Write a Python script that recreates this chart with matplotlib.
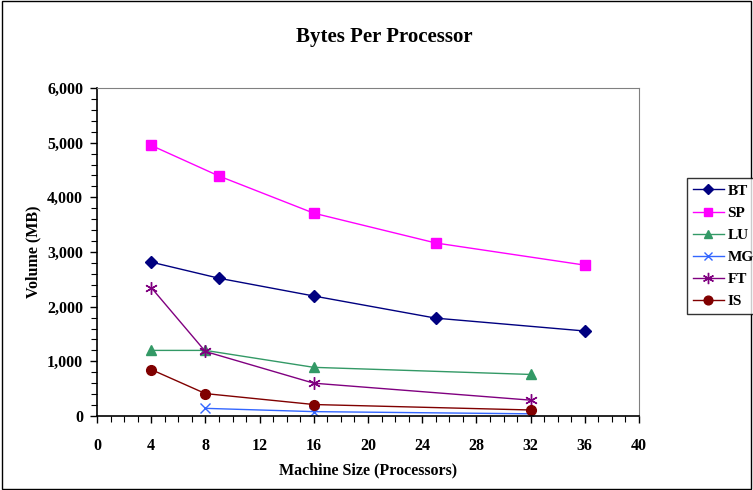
import matplotlib
matplotlib.use("Agg")
import matplotlib.pyplot as plt
from matplotlib.ticker import MultipleLocator, FuncFormatter
from matplotlib.patches import Rectangle

bt_x = [4, 9, 16, 25, 36]
bt_y = [2815, 2520, 2195, 1790, 1555]
sp_x = [4, 9, 16, 25, 36]
sp_y = [4950, 4390, 3710, 3165, 2760]
lu_x = [4, 8, 16, 32]
lu_y = [1200, 1200, 890, 760]
mg_x = [8, 16, 32]
mg_y = [140, 80, 40]
ft_x = [4, 8, 16, 32]
ft_y = [2350, 1180, 600, 290]
is_x = [4, 8, 16, 32]
is_y = [850, 410, 210, 110]

plt.rcParams['font.family'] = ['Liberation Serif', 'DejaVu Serif']
plt.rcParams['font.weight'] = 'bold'

fig = plt.figure(figsize=(7.53, 4.90), dpi=100)
ax = fig.add_axes([97/753, 1-416/490, (639-97)/753, (416-88)/490])

ax.plot(bt_x, bt_y, color='#000080', marker='D', markersize=6, lw=1, label='BT')
ax.plot(sp_x, sp_y, color='#FF00FF', marker='s', markersize=7, lw=1, label='SP')
ax.plot(lu_x, lu_y, color='#339966', marker='^', markersize=7, lw=1, label='LU')
ax.plot(mg_x, mg_y, color='#3366FF', marker='x', markersize=7, lw=1, label='MG')
ax.plot(ft_x, ft_y, color='#800080', marker=(6, 2, 0), markersize=9, lw=1, label='FT')
ax.plot(is_x, is_y, color='#800000', marker='o', markersize=7, lw=1, label='IS')

ax.set_xlim(0, 40)
ax.set_ylim(0, 6000)
ax.xaxis.set_major_locator(MultipleLocator(4))
ax.xaxis.set_minor_locator(MultipleLocator(1))
ax.yaxis.set_major_locator(MultipleLocator(1000))
ax.yaxis.set_minor_locator(MultipleLocator(200))
ax.yaxis.set_major_formatter(FuncFormatter(lambda v, p: f"{int(v):,}"))
ax.tick_params(axis='both', which='major', length=5, width=1, labelsize=11.5, direction='out')
ax.tick_params(axis='both', which='minor', length=4, width=0.8, direction='out')
ax.tick_params(axis='x', which='major', pad=11)
ax.tick_params(axis='y', which='major', pad=5)
for lab in ax.get_xticklabels() + ax.get_yticklabels():
    lab.set_fontweight('bold')
for s in ['top', 'right']:
    ax.spines[s].set_color('#808080')
    ax.spines[s].set_linewidth(0.8)
for s in ['left', 'bottom']:
    ax.spines[s].set_color('black')
    ax.spines[s].set_linewidth(1.2)

ax.set_xlabel('Machine Size (Processors)', fontsize=11.5, fontweight='bold', labelpad=6)
ax.set_ylabel('Volume (MB)', fontsize=11.5, fontweight='bold', labelpad=4)
fig.text(384/753, 1-37/490, 'Bytes Per Processor', ha='center', va='center',
         fontsize=15, fontweight='bold')

leg = fig.legend(loc='upper left', bbox_to_anchor=(687/753, 1-178/490),
                 frameon=True, fancybox=False, edgecolor='black',
                 prop={'weight': 'bold', 'size': 11, 'family': 'Liberation Serif'},
                 handlelength=2.0, borderaxespad=0, labelspacing=0.55,
                 borderpad=0.4, handletextpad=0.25, markerscale=0.9)
leg.get_frame().set_linewidth(1)

fig.patches.append(Rectangle((0.002, 0.002), 0.996, 0.996, transform=fig.transFigure,
                             fill=False, edgecolor='black', lw=1))

fig.savefig('out.png', dpi=100)
